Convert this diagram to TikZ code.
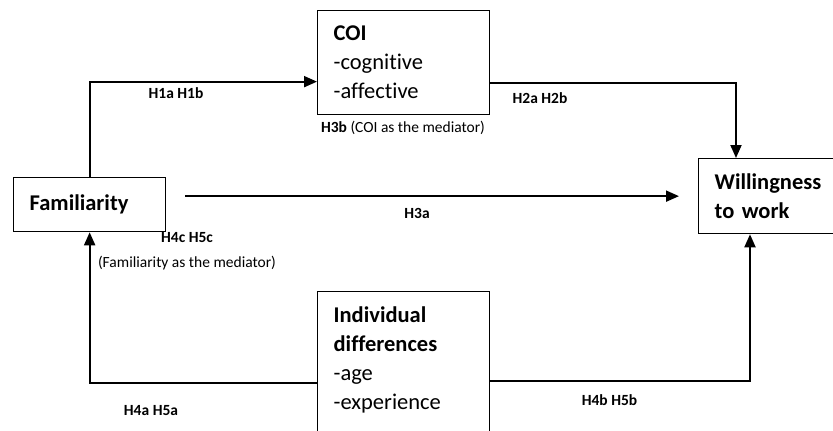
\documentclass[tikz,border=0pt]{standalone}
\usepackage{fontspec}
\setmainfont{Carlito}[Ligatures=NoCommon]
\usetikzlibrary{arrows.meta}

\tikzset{
  box/.style={draw, line width=1.3pt, anchor=north west, align=left,
    inner xsep=16pt, inner ysep=0pt, font={\fontsize{22.5}{29}\selectfont}},
  arr/.style={line width=1.9pt, -{Triangle[length=13pt,width=11pt]}},
  lbl/.style={inner sep=0pt, font={\fontsize{15.5}{18}\selectfont}}
}

\begin{document}
\begin{tikzpicture}[x=1pt, y=-1pt]
  % Canvas
  \useasboundingbox (0,0) rectangle (833,431);
  \clip (0,0) rectangle (833,431);

  % Boxes
  \node[box, text width=120pt, minimum width=152pt, minimum height=54pt] (fam) at (13,177) {\textbf{Familiarity}};
  \node[box, text width=140pt, minimum width=172pt, minimum height=104pt] (coi) at (317,10) {\textbf{COI}\\-cognitive\\-affective};
  \node[box, text width=140pt, minimum width=172pt, minimum height=75pt] (will) at (698,158) {\textbf{Willingness}\\\textbf{to work}};
  \node[box, text width=140pt, minimum width=172pt, inner ysep=15pt, text depth=130pt] (indiv) at (317,291) {\textbf{Individual}\\\textbf{differences}\\-age\\-experience};

  % Connectors
  \draw[arr] (fam.north) |- ([yshift=-19pt]coi.west);
  \draw[arr] ([yshift=-20pt]coi.east) -| ([xshift=38pt]will.north west);
  \draw[arr] ([xshift=19pt]fam.east |- will.west) -- ([xshift=-19pt]will.west);
  \draw[arr] ([yshift=-92pt]indiv.north west) -| (fam.south);
  \draw[arr] ([yshift=-90pt]indiv.north east) -| ([xshift=52pt]will.south west);

  % Labels
  \node[lbl] (lhone) at (176,93) {\textbf{H1a H1b}};
  \node[lbl] (lhtwo) at (540,98.5) {\textbf{H2a H2b}};
  \node[lbl] (lhthreeb) at (403,128) {\textbf{H3b} (COI as the mediator)};
  \node[lbl] (lhthreea) at (417,213) {\textbf{H3a}};
  \node[lbl] (lhfourc) at (187,238) {\textbf{H4c H5c}};
  \node[lbl] (lhfamed) at (187,263) {(Familiarity as the mediator)};
  \node[lbl] (lhfoura) at (151,410.5) {\textbf{H4a H5a}};
  \node[lbl] (lhfourb) at (609.5,400.5) {\textbf{H4b H5b}};
\end{tikzpicture}
\end{document}
